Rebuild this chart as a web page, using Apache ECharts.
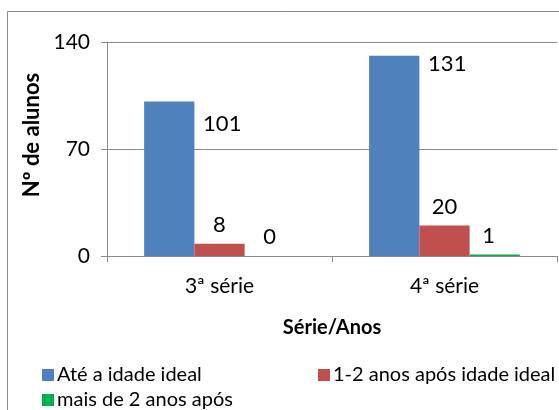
<!DOCTYPE html>
<html>
<head>
<meta charset="utf-8">
<script src="https://cdn.jsdelivr.net/npm/echarts@6/dist/echarts.min.js"></script>
<style>
	html, body { margin: 0; padding: 0; background: #fff; }
	#myChart { width: 559px; height: 410px; }
</style>
</head>
<body>
<div id="myChart"></div>
<script>
	// dados do gráfico
	var categorias = ['3ª série', '4ª série'];
	var ateIdadeIdeal = [101, 131];
	var umDoisAnos = [8, 20];
	var maisDeDois = [0, 1];
	var yTicks = [0, 70, 140];

	var fonte = 'Lato';

	// deslocamento dos rótulos como no original (Excel)
	function comRotulo(valores, desloc) {
		return valores.map(function(v, i) {
			return { value: v, label: { offset: desloc[i] } };
		});
	}

	// uma legenda por item, para reproduzir a disposição do Excel
	function legenda(nome, x, y) {
		return {
			data: [nome],
			left: x, top: y,
			itemWidth: 12, itemHeight: 12,
			icon: 'rect',
			textStyle: { fontFamily: fonte, fontSize: 20, color: '#000', padding: [0, 0, 0, -2] }
		};
	}

	var myChart = echarts.init(document.getElementById('myChart'));
	myChart.setOption({
		animation: false,
		textStyle: { fontFamily: fonte },
		graphic: [{
			type: 'rect',
			shape: { x: 7.5, y: 11.5, width: 600, height: 500 },
			style: { fill: 'none', stroke: '#8a8a8a', lineWidth: 1 }
		}],
		grid: { left: 107, right: 2, top: 42, bottom: 154 },
		legend: [
			legenda('Até a idade ideal', 37, 360),
			legenda('1-2 anos após idade ideal', 313, 360),
			legenda('mais de 2 anos após', 37, 385)
		],
		xAxis: {
			type: 'category',
			data: categorias,
			name: 'Série/Anos',
			nameLocation: 'middle',
			nameGap: 62,
			nameTextStyle: { fontFamily: fonte, fontSize: 20, fontWeight: 'bold', color: '#000' },
			axisLine: { lineStyle: { color: '#8a8a8a' } },
			axisTick: { show: true, length: 6, lineStyle: { color: '#8a8a8a' } },
			axisLabel: { fontFamily: fonte, fontSize: 21, color: '#000', margin: 20 }
		},
		yAxis: {
			type: 'value',
			min: yTicks[0],
			max: yTicks[yTicks.length - 1],
			interval: yTicks[1] - yTicks[0],
			name: 'Nº de alunos',
			nameLocation: 'middle',
			nameGap: 51,
			nameTextStyle: { fontFamily: fonte, fontSize: 22, fontWeight: 'bold', color: '#000', padding: [0, 0, 0, 28] },
			axisLine: { show: true, lineStyle: { color: '#8a8a8a' } },
			axisTick: { show: true, length: 6, lineStyle: { color: '#8a8a8a' } },
			axisLabel: { fontFamily: fonte, fontSize: 21, color: '#000', margin: 17 },
			splitLine: { lineStyle: { color: '#8a8a8a' } }
		},
		series: [{
			name: 'Até a idade ideal',
			type: 'bar',
			barGap: '0%',
			barCategoryGap: '33%',
			itemStyle: { color: '#4f81bd' },
			label: { show: true, position: 'top', distance: 8, fontFamily: fonte, fontSize: 22, color: '#000' },
			data: comRotulo(ateIdadeIdeal, [[53, 41], [53, 27]])
		}, {
			name: '1-2 anos após idade ideal',
			type: 'bar',
			itemStyle: { color: '#c0504d' },
			label: { show: true, position: 'top', distance: 8, fontFamily: fonte, fontSize: 22, color: '#000' },
			data: umDoisAnos
		}, {
			name: 'mais de 2 anos após',
			type: 'bar',
			itemStyle: { color: '#00b050' },
			label: { show: true, position: 'top', distance: 8, fontFamily: fonte, fontSize: 22, color: '#000' },
			data: comRotulo(maisDeDois, [[0, 0], [-6, 0]])
		}]
	});
</script>
</body>
</html>
